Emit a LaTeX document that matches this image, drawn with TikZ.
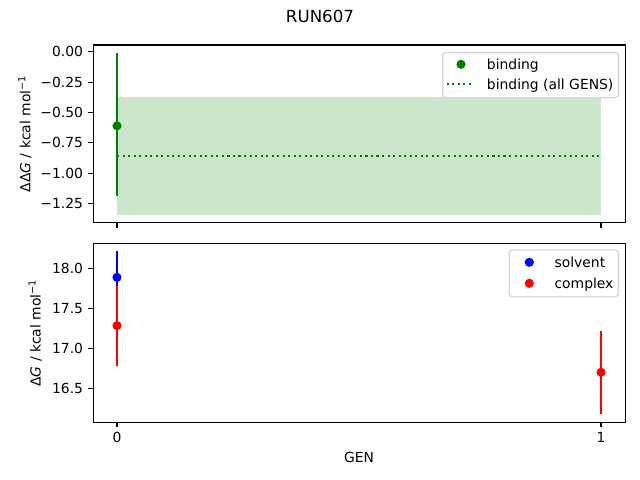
\documentclass[tikz,border=0pt]{standalone}
\usepackage{fontspec}
\setmainfont{DejaVu Sans}
\definecolor{mgreen}{RGB}{0,128,0}
\begin{document}
\begin{tikzpicture}[x=0.72pt,y=0.72pt,line cap=butt,
  spine/.style={line width=0.8pt},
  tick/.style={line width=0.8pt},
  lbl/.style={font=\fontsize{10}{12}\selectfont,inner sep=0pt},
  bar/.style={line width=1.5pt},
  dot/.style={circle,fill,inner sep=0pt,minimum size=6.6pt},
  alldots/.style={mgreen,line width=1.5pt,dash pattern=on 1.5pt off 2.475pt},
  legbox/.style={draw=black!16,fill=white,fill opacity=0.8,rounded corners=2pt,line width=1pt}]
\useasboundingbox (0,0) rectangle (640,480);
\node[lbl,font=\fontsize{12}{14}\selectfont,anchor=north] (title) at (320,470) {RUN607};
\begin{scope}[xshift=117*0.72pt,yshift=428.3*0.72pt,x=484*0.72pt,y=121.6*0.72pt]
\fill[mgreen,opacity=0.2] (0,-0.372) rectangle (1,-1.345);
\draw[alldots] (0,-0.858)--(1,-0.858);
\draw[bar,mgreen] (0,-0.013)--(0,-1.19);
\node[dot,mgreen] (b0) at (0,-0.61) {};
\draw[spine] (-0.049,-1.406) rectangle (1.051,0.055);
\foreach \v/\t [count=\i] in {0/0.00,-0.25/−0.25,-0.5/−0.50,-0.75/−0.75,-1/−1.00,-1.25/−1.25}
  \draw[tick] (-0.049,\v)--++(-3.5pt,0) node[lbl,anchor=east,xshift=-3.5pt] (ty\i) {\t};
\foreach \g in {0,1}
  \draw[tick] (\g,-1.406)--++(0,-3.5pt);
\node[lbl,rotate=90] (ytop) at (-0.19,-0.676) {ΔΔ\textit{G} / kcal mol\textsuperscript{−1}};
\end{scope}
\draw[legbox] (442.7,382.3) rectangle (618.3,427.3);
\node[dot,mgreen] (lgb) at (461,415.7) {};
\node[lbl,anchor=base west] (ltb) at (486.7,410.7) {binding};
\draw[alldots] (446.7,395.7)--(474.3,395.7);
\node[lbl,anchor=base west] (lta) at (486.7,390.7) {binding (all GENS)};
\begin{scope}[xshift=117*0.72pt,yshift=-1228.3*0.72pt,x=484*0.72pt,y=80*0.72pt]
\draw[bar,blue] (0,18.216)--(0,17.558);
\node[dot,blue] (s0) at (0,17.887) {};
\draw[bar,red] (0,17.783)--(0,16.783);
\node[dot,red] (c0) at (0,17.283) {};
\draw[bar,red] (1,17.22)--(1,16.18);
\node[dot,red] (c1) at (1,16.70) {};
\draw[spine] (-0.049,16.075) rectangle (1.051,18.3125);
\foreach \v/\t [count=\i] in {16.5/16.5,17/17.0,17.5/17.5,18/18.0}
  \draw[tick] (-0.049,\v)--++(-3.5pt,0) node[lbl,anchor=east,xshift=-3.5pt] (by\i) {\t};
\foreach \g in {0,1}
  \draw[tick] (\g,16.075)--++(0,-3.5pt) node[lbl,anchor=north,yshift=-3.5pt] (bx\g) {\g};
\node[lbl,rotate=90] (ybot) at (-0.169,17.19) {Δ\textit{G} / kcal mol\textsuperscript{−1}};
\node[lbl,anchor=north] (gen) at (0.5,15.704) {GEN};
\end{scope}
\draw[legbox] (509.3,183.3) rectangle (618.3,230);
\node[dot,blue] (lgs) at (529.3,217.7) {};
\node[lbl,anchor=base west] (lts) at (554.3,212.7) {solvent};
\node[dot,red] (lgc) at (529.3,196.7) {};
\node[lbl,anchor=base west] (ltc) at (554.3,191.7) {complex};
\end{tikzpicture}
\end{document}
